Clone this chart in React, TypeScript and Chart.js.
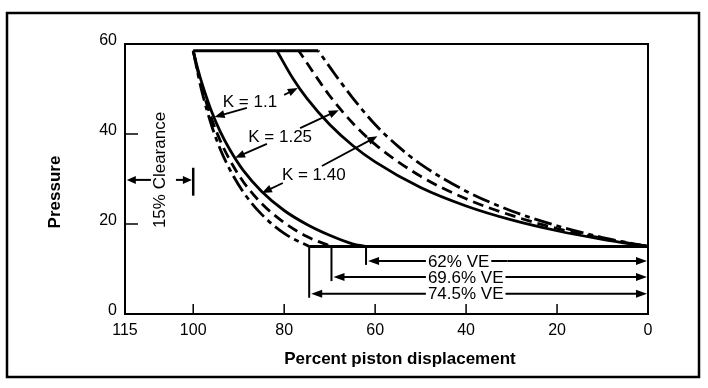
import React, { useEffect, useRef } from "react";
import { Chart, registerables } from "chart.js";

Chart.register(...registerables);

// ---- data ----
const xTickValues = [115, 100, 80, 60, 40, 20, 0];
const yTickValues = [0, 20, 40, 60];

const kLabels = ["K = 1.1", "K = 1.25", "K = 1.40"];

// expansion curves (left family)
const expX_k110 = [100, 99, 98, 96, 94, 92, 89, 85, 80, 75, 70, 65, 62];
const expP_k110 = [58.5, 54.5, 51.0, 45.1, 40.4, 36.6, 31.9, 27.3, 23.0, 19.9, 17.5, 15.6, 15.0];
const expX_k125 = [100, 99, 98, 96, 94, 92, 89, 85, 80, 75, 69.6];
const expP_k125 = [58.5, 54.0, 50.0, 43.5, 38.4, 34.3, 29.4, 24.6, 20.3, 17.2, 15.0];
const expX_k140 = [100, 99, 98, 96, 94, 92, 89, 85, 80, 74.5];
const expP_k140 = [58.5, 53.5, 49.1, 42.0, 36.5, 32.2, 27.1, 22.2, 17.9, 15.0];

// compression curves (right family)
const cmpX_k110 = [0, 10, 20, 30, 40, 50, 60, 65, 70, 75, 78, 81.6];
const cmpP_k110 = [15, 16.6, 18.5, 20.9, 24.0, 28.1, 33.8, 37.5, 42.1, 47.9, 52.2, 58.5];
const cmpX_k125 = [0, 10, 20, 30, 40, 50, 60, 65, 70, 73, 76.8];
const cmpP_k125 = [15, 16.8, 19.0, 21.9, 25.6, 30.6, 37.7, 42.5, 48.5, 52.8, 58.5];
const cmpX_k140 = [0, 10, 20, 30, 40, 50, 55, 60, 65, 69, 72.5];
const cmpP_k140 = [15, 17.0, 19.6, 22.9, 27.3, 33.3, 37.3, 42.1, 48.1, 53.5, 58.5];

// discharge line (top) and intake line (bottom)
const dischargeX = [100, 72.5];
const dischargeP = [58.5, 58.5];
const intakeX = [74.5, 0];
const intakeP = [15, 15];

// volumetric efficiency
const veValues = [62, 69.6, 74.5];
const veLabels = ["62% VE", "69.6% VE", "74.5% VE"];

const clearanceLabel = "15% Clearance";
const xTitle = "Percent piston displacement";
const yTitle = "Pressure";

// ---- annotation layout (data coordinates) ----
const veArrowLevels = [11.8, 8.2, 4.5];
const veLabelX = 48.4;
const kLabelPos = [
  { x: 93.5, y: 47.1 },
  { x: 87.9, y: 39.3 },
  { x: 80.5, y: 30.9 },
];
const kArrows = [
  [{ x1: 88.2, y1: 45.8, x2: 95.3, y2: 43.8 }, { x1: 80.0, y1: 48.7, x2: 77.0, y2: 50.2 }],
  [{ x1: 83.8, y1: 37.8, x2: 90.8, y2: 34.7 }, { x1: 76.5, y1: 41.3, x2: 68.0, y2: 45.3 }],
  [{ x1: 80.3, y1: 29.1, x2: 84.9, y2: 26.9 }, { x1: 71.7, y1: 32.9, x2: 59.5, y2: 39.5 }],
];

const FONT = '"Liberation Sans", Arial, Helvetica, sans-serif';

const toPts = (xs: number[], ys: number[]) => xs.map((x, i) => ({ x, y: ys[i] }));

function arrow(ctx: CanvasRenderingContext2D, x1: number, y1: number, x2: number, y2: number, len = 10, half = 4) {
  const a = Math.atan2(y2 - y1, x2 - x1);
  ctx.beginPath();
  ctx.moveTo(x1, y1);
  ctx.lineTo(x2 - Math.cos(a) * len * 0.6, y2 - Math.sin(a) * len * 0.6);
  ctx.stroke();
  ctx.beginPath();
  ctx.moveTo(x2, y2);
  ctx.lineTo(x2 - Math.cos(a) * len - Math.sin(a) * half, y2 - Math.sin(a) * len + Math.cos(a) * half);
  ctx.lineTo(x2 - Math.cos(a) * len + Math.sin(a) * half, y2 - Math.sin(a) * len - Math.cos(a) * half);
  ctx.closePath();
  ctx.fill();
}

const annotationPlugin = {
  id: "pvAnnotations",
  afterDatasetsDraw(chart: any) {
    const ctx: CanvasRenderingContext2D = chart.ctx;
    const xs = chart.scales.x;
    const ys = chart.scales.y;
    const px = (v: number) => xs.getPixelForValue(v);
    const py = (v: number) => ys.getPixelForValue(v);
    const ca = chart.chartArea;
    ctx.save();
    ctx.strokeStyle = "#000";
    ctx.fillStyle = "#000";

    // outer frame
    ctx.lineWidth = 2.5;
    ctx.strokeRect(7, 13, chart.width - 16, chart.height - 24);

    // plot box
    ctx.lineWidth = 2;
    ctx.strokeRect(ca.left, ca.top, ca.right - ca.left, ca.bottom - ca.top);

    // inner ticks
    ctx.lineWidth = 1.5;
    yTickValues.forEach((v) => {
      const y = py(v);
      ctx.beginPath();
      ctx.moveTo(ca.left, y);
      ctx.lineTo(ca.left + 13, y);
      ctx.stroke();
    });
    xTickValues.forEach((v) => {
      const x = px(v);
      ctx.beginPath();
      ctx.moveTo(x, ca.bottom);
      ctx.lineTo(x, ca.bottom - 10);
      ctx.stroke();
    });

    // VE verticals and arrows
    ctx.lineWidth = 2;
    veValues.forEach((ve, i) => {
      const lvl = veArrowLevels[i];
      ctx.beginPath();
      ctx.moveTo(px(ve), py(intakeP[0]));
      ctx.lineTo(px(ve), py(lvl) + 4);
      ctx.stroke();
      const y = py(lvl);
      const xl = px(ve) + 2;
      const xr = px(0) - 1;
      const xm = (xl + xr) / 2;
      arrow(ctx, xm, y, xl, y, 11, 4);
      arrow(ctx, xm, y, xr, y, 11, 4);
    });
    ctx.font = `17px ${FONT}`;
    ctx.textBaseline = "middle";
    ctx.textAlign = "left";
    veLabels.forEach((lab, i) => {
      const y = py(veArrowLevels[i]);
      const x = px(veLabelX);
      const w = ctx.measureText(lab).width;
      ctx.fillStyle = "#fff";
      ctx.fillRect(x - 2, y - 7, w + 4, 14);
      ctx.fillStyle = "#000";
      ctx.fillText(lab, x, y + 1);
    });

    // K labels and arrows
    ctx.font = `17px ${FONT}`;
    kLabels.forEach((lab, i) => {
      ctx.fillText(lab, px(kLabelPos[i].x), py(kLabelPos[i].y));
      kArrows[i].forEach((a) => {
        ctx.lineWidth = 1.8;
        arrow(ctx, px(a.x1), py(a.y1), px(a.x2), py(a.y2), 10, 4);
      });
    });

    // clearance marking
    ctx.lineWidth = 2;
    const cy = py(29.8);
    arrow(ctx, px(109.3), cy, px(114.6), cy, 9, 4);
    arrow(ctx, px(103.8), cy, px(100.3), cy, 9, 4);
    ctx.lineWidth = 2.5;
    ctx.beginPath();
    ctx.moveTo(px(100), py(26.3));
    ctx.lineTo(px(100), py(32.5));
    ctx.stroke();

    ctx.save();
    ctx.translate(px(107.3), py(32));
    ctx.rotate(-Math.PI / 2);
    ctx.textAlign = "center";
    ctx.font = `17px ${FONT}`;
    ctx.fillText(clearanceLabel, 0, 0);
    ctx.restore();

    // axis titles
    ctx.font = `bold 17px ${FONT}`;
    ctx.textAlign = "center";
    ctx.fillText(xTitle, 400, 359);
    ctx.save();
    ctx.translate(55, 192);
    ctx.rotate(-Math.PI / 2);
    ctx.fillText(yTitle, 0, 0);
    ctx.restore();

    ctx.restore();
  },
};

const lineDs = (data: { x: number; y: number }[], dash: number[] = []) => ({
  data,
  showLine: true,
  borderColor: "#000",
  borderWidth: 2.8,
  borderDash: dash,
  pointRadius: 0,
  fill: false,
  cubicInterpolationMode: "monotone" as const,
});

const DASH = [11, 6];
const DASHDOT = [18, 5, 5, 5];

export default function App() {
  const ref = useRef<HTMLCanvasElement>(null);
  useEffect(() => {
    document.body.style.margin = "0";
    if (!ref.current) return;
    const chart = new Chart(ref.current, {
      type: "scatter",
      data: {
        datasets: [
          lineDs(toPts(dischargeX, dischargeP)),
          lineDs(toPts(intakeX, intakeP)),
          lineDs(toPts(expX_k110, expP_k110)),
          lineDs(toPts(expX_k125, expP_k125), DASH),
          lineDs(toPts(expX_k140, expP_k140), DASHDOT),
          lineDs(toPts(cmpX_k110, cmpP_k110)),
          lineDs(toPts(cmpX_k125, cmpP_k125), DASH),
          lineDs(toPts(cmpX_k140, cmpP_k140), DASHDOT),
        ],
      },
      options: {
        responsive: false,
        animation: false,
        maintainAspectRatio: false,
        layout: { padding: { top: 44, right: 60, left: 0, bottom: 0 } },
        plugins: { legend: { display: false }, tooltip: { enabled: false } },
        scales: {
          x: {
            type: "linear",
            min: 0,
            max: 115,
            reverse: true,
            grid: { display: false, drawTicks: false },
            border: { display: false },
            afterBuildTicks: (s: any) => {
              s.ticks = xTickValues.map((v) => ({ value: v }));
            },
            afterFit: (s: any) => {
              s.height = 74;
            },
            ticks: {
              color: "#000",
              font: { family: FONT, size: 16 },
              padding: 7,
              maxRotation: 0,
              autoSkip: false,
            },
          },
          y: {
            type: "linear",
            min: 0,
            max: 60,
            grid: { display: false, drawTicks: false },
            border: { display: false },
            afterBuildTicks: (s: any) => {
              s.ticks = yTickValues.map((v) => ({ value: v }));
            },
            afterFit: (s: any) => {
              s.width = 125;
            },
            ticks: {
              color: "#000",
              font: { family: FONT, size: 16 },
              padding: 8,
              labelOffset: -3,
            },
          },
        },
      },
      plugins: [annotationPlugin],
    });
    return () => chart.destroy();
  }, []);
  return <canvas ref={ref} width={708} height={388} style={{ display: "block" }} />;
}
